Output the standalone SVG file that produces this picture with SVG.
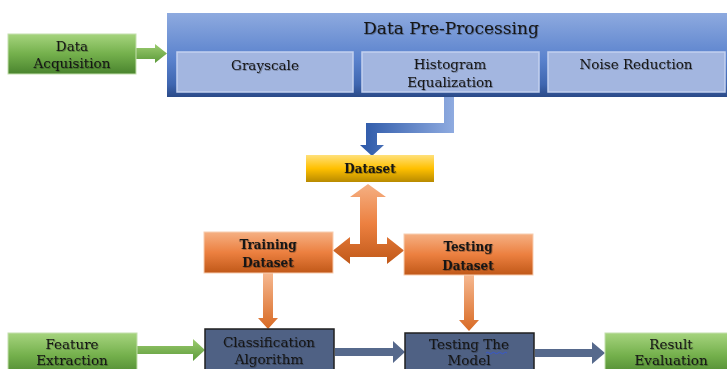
<svg xmlns="http://www.w3.org/2000/svg" width="727" height="369" viewBox="0 0 727 369">
<defs>
<linearGradient id="gGreen" x1="0" y1="0" x2="0" y2="1"><stop offset="0" stop-color="#a6d47e"/><stop offset="0.5" stop-color="#74b04c"/><stop offset="1" stop-color="#4a842e"/></linearGradient>
<linearGradient id="gBlue" x1="0" y1="0" x2="0" y2="1"><stop offset="0" stop-color="#8eaadf"/><stop offset="0.55" stop-color="#5a82cd"/><stop offset="0.85" stop-color="#3f66b0"/><stop offset="1" stop-color="#2a4a88"/></linearGradient>
<linearGradient id="gYellow" x1="0" y1="0" x2="0" y2="1"><stop offset="0" stop-color="#ffe07a"/><stop offset="0.5" stop-color="#ffc000"/><stop offset="1" stop-color="#b88a00"/></linearGradient>
<linearGradient id="gOrange" x1="0" y1="0" x2="0" y2="1"><stop offset="0" stop-color="#f5b083"/><stop offset="0.5" stop-color="#ec8040"/><stop offset="1" stop-color="#c05818"/></linearGradient>
<linearGradient id="gOrangeV" x1="0" y1="0" x2="0" y2="1"><stop offset="0" stop-color="#f6b890"/><stop offset="1" stop-color="#d86a24"/></linearGradient>
<linearGradient id="gBlueArrow" x1="0" y1="0" x2="1" y2="0"><stop offset="0" stop-color="#2c58a8"/><stop offset="1" stop-color="#8fabe0"/></linearGradient>
<linearGradient id="gGreenArrow" x1="0" y1="0" x2="0" y2="1"><stop offset="0" stop-color="#9ccc70"/><stop offset="1" stop-color="#5c9a3a"/></linearGradient>
<filter id="sh" x="-10%" y="-20%" width="120%" height="140%"><feDropShadow dx="0.8" dy="0.8" stdDeviation="0.7" flood-color="#000" flood-opacity="0.35"/></filter>
</defs>
<style>
text{font-family:"DejaVu Serif","Liberation Serif",serif;fill:#151515;text-anchor:middle;filter:url(#sh)}
.t{font-size:13.5px}
.b{font-size:12px;font-weight:bold}
.title{font-size:17px}
.sub{fill:#a3b6e0;stroke:#c3d1ef;stroke-width:1.5}
.slate{fill:#4f6184;stroke:#1f1f1f;stroke-width:1.5}
.green{fill:url(#gGreen);stroke:#c4e0ad;stroke-width:1}
.orange{fill:url(#gOrange);stroke:#f8cdb0;stroke-width:1}
</style>
<g id="connectors">
<path d="M136,48 H155 V44 L167,53.5 L155,63 V59 H136 Z" fill="url(#gGreenArrow)"/>
<path d="M444,96 H454 V133 H377 V145 H384 L372,156 L360,145 H366 V123 H444 Z" fill="url(#gBlueArrow)"/>
<path d="M368,184 L386,197 H377 V244 H387 V237 L404,250.5 L387,264 V257 H350 V264 L333,250.5 L350,237 V244 H360 V197 H350 Z" fill="url(#gOrange)"/>
<path d="M263,273 H273 V318 H278 L268,329 L258,318 H263 Z" fill="url(#gOrangeV)"/>
<path d="M464,275 H474 V320 H479 L469,331 L459,320 H464 Z" fill="url(#gOrangeV)"/>
<path d="M137,346 H193 V339 L205,350 L193,361 V354 H137 Z" fill="url(#gGreenArrow)"/>
<path d="M335,348 H393 V341 L405,352 L393,363 V356 H335 Z" fill="#56698c"/>
<path d="M535,349 H592 V342 L605,353 L592,364 V357 H535 Z" fill="#56698c"/>
</g>
<g id="data-acquisition"><rect class="green" x="8" y="34" width="128" height="40"/><text class="t" x="72" y="51">Data</text><text class="t" x="72" y="68">Acquisition</text></g>
<g id="pre-processing"><rect x="167" y="13" width="562" height="84" fill="url(#gBlue)"/><text class="title" x="451" y="34">Data Pre-Processing</text></g>
<g id="grayscale"><rect class="sub" x="177" y="52" width="176" height="40"/><text class="t" x="265" y="70">Grayscale</text></g>
<g id="histogram"><rect class="sub" x="362" y="52" width="177" height="40"/><text class="t" x="450" y="69">Histogram</text><text class="t" x="450" y="87">Equalization</text></g>
<g id="noise"><rect class="sub" x="548" y="52" width="177" height="40"/><text class="t" x="636" y="69">Noise Reduction</text></g>
<g id="dataset"><rect x="306" y="155" width="128" height="27" fill="url(#gYellow)"/><text class="b" x="370" y="173">Dataset</text></g>
<g id="training"><rect class="orange" x="204" y="232" width="129" height="41"/><text class="b" x="268" y="249">Training</text><text class="b" x="268" y="267">Dataset</text></g>
<g id="testing"><rect class="orange" x="404" y="234" width="129" height="41"/><text class="b" x="468" y="251">Testing</text><text class="b" x="468" y="270">Dataset</text></g>
<g id="feature"><rect class="green" x="8" y="333" width="129" height="45"/><text class="t" x="72" y="349">Feature</text><text class="t" x="72" y="365">Extraction</text></g>
<g id="classification"><rect class="slate" x="205" y="329" width="129" height="50"/><text class="t" x="269" y="347">Classification</text><text class="t" x="269" y="364">Algorithm</text></g>
<g id="testing-model"><rect class="slate" x="405" y="333" width="129" height="46"/><text class="t" x="469" y="349">Testing The</text><path d="M486,353 q1.5,-1.5 3,0 t3,0 t3,0 t3,0 t3,0 t3,0 t3,0" fill="none" stroke="#3355dd" stroke-width="0.8"/><text class="t" x="469" y="365">Model</text></g>
<g id="result"><rect class="green" x="605" y="333" width="124" height="45"/><text class="t" x="671" y="349">Result</text><text class="t" x="671" y="365">Evaluation</text></g>
</svg>
